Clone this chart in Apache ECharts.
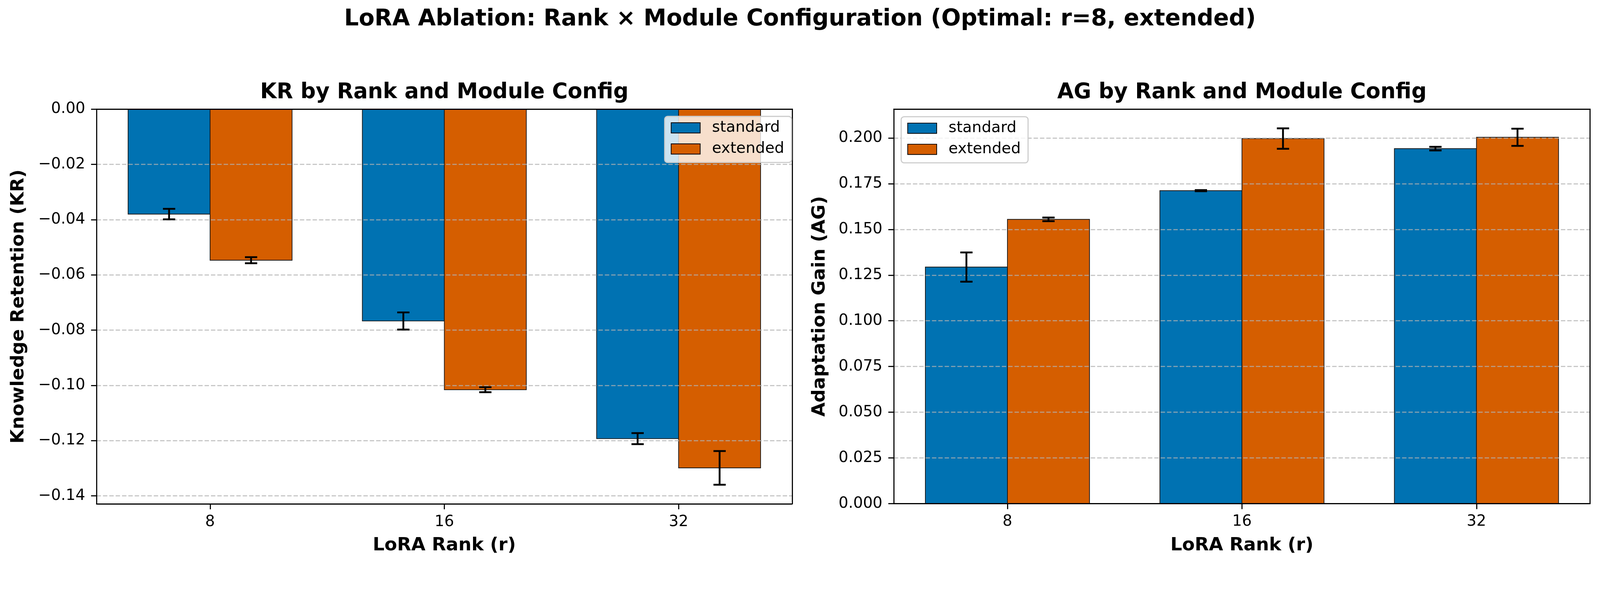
<!DOCTYPE html>
<html><head><meta charset="utf-8">
<script src="https://cdn.jsdelivr.net/npm/echarts@6/dist/echarts.min.js"></script>
<style>html,body{margin:0;padding:0;background:#fff;overflow:hidden}#c{width:100vw;height:100vh}</style>
</head><body><div id="c"></div>
<script>
// ---- data ----
const ranks = ['8', '16', '32'];
const configs = ['standard', 'extended'];
const krStandard = [-0.0380, -0.0767, -0.1193];
const krStandardErr = [0.0019, 0.0031, 0.0020];
const krExtended = [-0.0547, -0.1016, -0.1299];
const krExtendedErr = [0.0011, 0.0009, 0.0061];
const agStandard = [0.1294, 0.1712, 0.1942];
const agStandardErr = [0.0080, 0.0003, 0.0010];
const agExtended = [0.1555, 0.1997, 0.2004];
const agExtendedErr = [0.0010, 0.0056, 0.0047];
const krTicks = [0, -0.02, -0.04, -0.06, -0.08, -0.10, -0.12, -0.14];
const agTicks = [0, 0.025, 0.05, 0.075, 0.1, 0.125, 0.15, 0.175, 0.2];
const krRange = [-0.1429, 0];
const agRange = [0, 0.2158];
const xRange = [-0.4845, 2.4845];
const rankPositions = [0, 1, 2];

// ---- style / layout (design size 4357 x 1535, scaled to the viewport) ----
const FONT = 'DejaVu Sans';
const COLORS = {standard: '#0072B2', extended: '#D55E00'};
const BW = 0.35;
const OFFS = {standard: -0.175, extended: 0.175};
const W0 = 4357, H0 = 1535;
const S = Math.min(window.innerWidth / W0, window.innerHeight / H0);
const px = v => v * S;

const chart = echarts.init(document.getElementById('c'), null, {renderer: 'canvas'});

function fmtMinus(s) { return s.replace('-', '\u2212'); }

function barSeries(name, vals, gi) {
  const color = COLORS[name], off = OFFS[name];
  return {
    type: 'custom', name, xAxisIndex: gi * 2, yAxisIndex: gi * 2, z: 1,
    itemStyle: {color, borderColor: '#000', borderWidth: px(2)},
    encode: {x: 0, y: 1},
    data: vals.map((v, i) => [rankPositions[i], v]),
    renderItem(params, api) {
      const x = api.value(0), v = api.value(1);
      const a = api.coord([x + off - BW / 2, 0]);
      const b = api.coord([x + off + BW / 2, v]);
      return {
        type: 'rect',
        shape: {x: a[0], y: Math.min(a[1], b[1]), width: b[0] - a[0], height: Math.abs(b[1] - a[1])},
        style: {fill: color, stroke: '#1a1a1a', lineWidth: px(2)}
      };
    }
  };
}

function errSeries(name, vals, errs, gi) {
  const off = OFFS[name];
  return {
    type: 'custom', name: name + '_err', xAxisIndex: gi * 2, yAxisIndex: gi * 2, z: 3,
    encode: {x: 0, y: 1},
    data: vals.map((v, i) => [rankPositions[i], v, errs[i]]),
    renderItem(params, api) {
      const x = api.value(0) + off, v = api.value(1), e = api.value(2);
      const lo = api.coord([x, v - e]), hi = api.coord([x, v + e]);
      const cap = px(16.7);
      const st = {stroke: '#000', lineWidth: px(5)};
      return {
        type: 'group', children: [
          {type: 'line', shape: {x1: lo[0], y1: lo[1], x2: hi[0], y2: hi[1]}, style: st},
          {type: 'line', shape: {x1: lo[0] - cap, y1: lo[1], x2: lo[0] + cap, y2: lo[1]}, style: st},
          {type: 'line', shape: {x1: hi[0] - cap, y1: hi[1], x2: hi[0] + cap, y2: hi[1]}, style: st}
        ]
      };
    }
  };
}

function xAxes(gi) {
  return [
    {
      type: 'value', gridIndex: gi, position: 'bottom', min: xRange[0], max: xRange[1], z: 4,
      axisLine: {show: true, onZero: false, lineStyle: {color: '#000', width: px(3)}},
      axisTick: {show: true, length: px(15), lineStyle: {color: '#000', width: px(3)}, customValues: rankPositions},
      axisLabel: {show: true, customValues: rankPositions, formatter: v => ranks[Math.round(v)],
        fontSize: px(41.7), color: '#000', margin: px(29), fontFamily: FONT},
      splitLine: {show: false},
      name: 'LoRA Rank (r)', nameLocation: 'middle', nameGap: px(89),
      nameTextStyle: {fontSize: px(50), fontWeight: 'bold', color: '#000', fontFamily: FONT}
    },
    {
      type: 'value', gridIndex: gi, position: 'top', min: xRange[0], max: xRange[1], z: 4,
      axisLine: {show: true, onZero: false, lineStyle: {color: '#000', width: px(3)}},
      axisTick: {show: false}, axisLabel: {show: false}, splitLine: {show: false}
    }
  ];
}

function yAxes(gi, range, ticks, digits, name, gap) {
  return [
    {
      type: 'value', gridIndex: gi, position: 'left', min: range[0], max: range[1], z: 2,
      axisLine: {show: true, onZero: false, lineStyle: {color: '#000', width: px(3)}},
      axisTick: {show: true, length: px(15), lineStyle: {color: '#000', width: px(3)}, customValues: ticks},
      axisLabel: {show: true, customValues: ticks, formatter: v => fmtMinus(v.toFixed(digits)),
        fontSize: px(41.7), color: '#000', margin: px(31), fontFamily: FONT},
      splitLine: {show: true, lineStyle: {color: 'rgba(176,176,176,0.7)', width: px(3), type: [px(12), px(5.3)]}},
      name, nameLocation: 'middle', nameGap: px(gap), nameRotate: 90,
      nameTextStyle: {fontSize: px(50), fontWeight: 'bold', color: '#000', fontFamily: FONT}
    },
    {
      type: 'value', gridIndex: gi, position: 'right', min: range[0], max: range[1], z: 4,
      axisLine: {show: true, onZero: false, lineStyle: {color: '#000', width: px(3)}},
      axisTick: {show: false}, axisLabel: {show: false}, splitLine: {show: false}
    }
  ];
}

function legendData() {
  return configs.map(c => ({name: c, icon: 'rect', itemStyle: {color: COLORS[c], borderColor: '#000', borderWidth: px(2)}}));
}
const legendCommon = {
  orient: 'vertical', itemWidth: px(79), itemHeight: px(28), itemGap: px(16),
  padding: [px(10.5), px(20), px(16), px(16.7)],
  backgroundColor: 'rgba(255,255,255,0.8)', borderColor: '#cccccc', borderWidth: px(3), borderRadius: px(8),
  textStyle: {fontSize: px(41.7), color: '#000', fontFamily: FONT, padding: [0, 0, 0, px(27)]},
  z: 6, selectedMode: false
};

const titleFont = sz => 'bold ' + px(sz) + 'px "DejaVu Sans"';

const option = {
  animation: false,
  backgroundColor: '#fff',
  textStyle: {fontFamily: FONT},
  grid: [
    {left: px(263), top: px(297), width: px(1894), height: px(1074), containLabel: false},
    {left: px(2434), top: px(297), width: px(1896), height: px(1073.5), containLabel: false}
  ],
  xAxis: [...xAxes(0), ...xAxes(1)],
  yAxis: [
    ...yAxes(0, krRange, krTicks, 2, 'Knowledge Retention (KR)', 187),
    ...yAxes(1, agRange, agTicks, 3, 'Adaptation Gain (AG)', 177)
  ],
  legend: [
    Object.assign({}, legendCommon, {left: px(1810), top: px(316.7), data: legendData()}),
    Object.assign({}, legendCommon, {left: px(2454), top: px(317.7), data: legendData()})
  ],
  graphic: [
    {type: 'text', x: px(2178.5), y: px(74 - 0.346 * 62.5), z: 10,
      style: {text: 'LoRA Ablation: Rank \u00d7 Module Configuration (Optimal: r=8, extended)',
        font: titleFont(62.5), fill: '#000', align: 'center', verticalAlign: 'middle'}},
    {type: 'text', x: px(1210), y: px(272 - 0.346 * 58), z: 10,
      style: {text: 'KR by Rank and Module Config', font: titleFont(58), fill: '#000', align: 'center', verticalAlign: 'middle'}},
    {type: 'text', x: px(3382), y: px(272 - 0.346 * 58), z: 10,
      style: {text: 'AG by Rank and Module Config', font: titleFont(58), fill: '#000', align: 'center', verticalAlign: 'middle'}}
  ],
  series: [
    barSeries('standard', krStandard, 0),
    barSeries('extended', krExtended, 0),
    errSeries('standard', krStandard, krStandardErr, 0),
    errSeries('extended', krExtended, krExtendedErr, 0),
    barSeries('standard', agStandard, 1),
    barSeries('extended', agExtended, 1),
    errSeries('standard', agStandard, agStandardErr, 1),
    errSeries('extended', agExtended, agExtendedErr, 1)
  ]
};
chart.setOption(option);
</script>
</body></html>
